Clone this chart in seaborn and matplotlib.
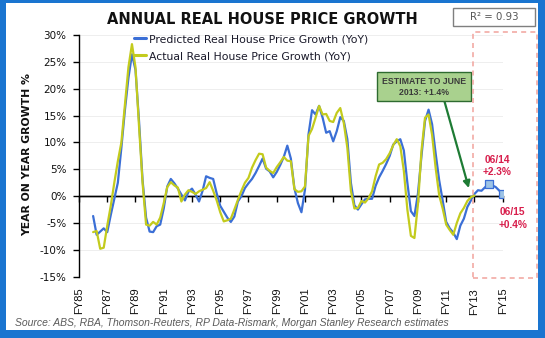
import matplotlib
matplotlib.use("Agg")
import matplotlib.pyplot as plt
import seaborn as sns
import pandas as pd
from matplotlib.patches import Rectangle
from matplotlib.lines import Line2D

# ---------------- data (quarterly, fiscal-year axis) ----------------
quarter_start = 1986.0
predicted = [
    -3.7, -7.2, -6.6, -6.0,   # 1986
    -6.7, -3.5, -0.5, 2.5,    # 1987
    9.0, 16.0, 22.0, 26.4,    # 1988
    23.5, 14.0, 3.0, -4.0,    # 1989
    -6.6, -6.7, -5.6, -5.3,   # 1990
    -2.3, 1.8, 3.2, 2.4,      # 1991
    1.4, 0.3, -0.8, 0.8,      # 1992
    1.4, 0.3, -1.0, 1.0,      # 1993
    3.7, 3.4, 3.2, 0.5,       # 1994
    -1.8, -2.9, -4.0, -4.8,   # 1995
    -3.8, -1.0, 0.0, 1.5,     # 1996
    2.4, 3.2, 4.3, 5.6,       # 1997
    7.0, 5.1, 4.6, 3.5,       # 1998
    4.5, 5.8, 7.3, 9.4,       # 1999
    7.0, 1.5, -1.3, -3.0,     # 2000
    1.2, 11.5, 16.0, 15.2,    # 2001
    16.8, 14.6, 11.8, 12.1,   # 2002
    10.2, 12.1, 14.7, 14.0,   # 2003
    10.6, 2.5, -1.7, -2.5,    # 2004
    -1.5, -0.6, -0.5, -0.5,   # 2005
    1.9, 3.5, 4.7, 6.0,       # 2006
    7.5, 9.6, 10.2, 10.6,     # 2007
    8.5, 2.5, -2.8, -3.7,     # 2008
    0.5, 7.5, 14.0, 16.1,     # 2009
    13.4, 8.0, 3.0, -0.8,     # 2010
    -4.8, -6.0, -6.8, -8.0,   # 2011
    -5.5, -4.2, -2.0, -0.8,   # 2012
    0.4,                      # 2013
]
actual = [
    -6.7, -6.5, -9.8, -9.6,   # 1986
    -5.5, -1.8, 2.5, 6.5,     # 1987
    10.0, 17.0, 24.0, 28.3,   # 1988
    24.0, 13.0, 2.5, -5.3,    # 1989
    -5.5, -4.8, -5.3, -4.0,   # 1990
    -1.3, 1.7, 2.6, 2.0,      # 1991
    1.6, -1.0, 0.3, 1.1,      # 1992
    0.8, 0.4, 0.9, 1.2,       # 1993
    1.5, 2.6, 1.0, -0.8,      # 1994
    -3.0, -4.7, -4.5, -4.2,   # 1995
    -2.5, -0.7, 1.0, 2.5,     # 1996
    3.4, 5.3, 6.7, 7.9,       # 1997
    7.8, 5.3, 4.7, 4.3,       # 1998
    5.4, 6.3, 7.3, 6.6,       # 1999
    6.5, 1.3, 0.8, 0.9,       # 2000
    1.8, 11.2, 12.5, 14.6,    # 2001
    16.8, 15.2, 15.3, 14.0,   # 2002
    13.8, 15.5, 16.4, 13.6,   # 2003
    9.0, 1.0, -2.3, -2.2,     # 2004
    -0.9, -1.2, -0.4, 0.9,    # 2005
    3.7, 5.9, 6.2, 6.9,       # 2006
    8.0, 9.5, 10.6, 9.3,      # 2007
    4.7, -2.5, -7.4, -7.8,    # 2008
    -1.5, 8.5, 14.6, 15.2,    # 2009
    11.4, 5.3, 0.2, -2.3,     # 2010
    -5.3, -6.3, -7.2, -5.0,   # 2011
    -3.2, -2.2, -0.9, -0.2,   # 2012
    0.1,                      # 2013
]
forecast_fy = [2013.25, 2013.5, 2014.0, 2014.5, 2015.0]
forecast_vals = [1.1, 1.0, 2.3, 1.7, 0.4]
marker_fy = [2014.0, 2015.0]
marker_vals = [2.3, 0.4]

pred_label = "Predicted Real House Price Growth (YoY)"
act_label = "Actual Real House Price Growth (YoY)"
tick_years = list(range(1985, 2016, 2))
tick_labels = ["FY%02d" % (y % 100) for y in tick_years]
y_ticks = list(range(-15, 31, 5))

hist_pred_fy = [quarter_start + 0.25 * i for i in range(len(predicted))]
hist_act_fy = [quarter_start + 0.25 * i for i in range(len(actual))]

df = pd.DataFrame({
    "fy": hist_pred_fy + forecast_fy + hist_act_fy,
    "val": predicted + forecast_vals + actual,
    "series": [pred_label] * (len(predicted) + len(forecast_vals)) + [act_label] * len(actual),
})

BLUE = "#3b6fd6"
YELLOW = "#c3cb1d"

# ---------------- figure ----------------
sns.set_style("white")
plt.rcParams["font.family"] = ["DejaVu Sans"]

W, H = 545, 338
fig = plt.figure(figsize=(W / 100, H / 100), dpi=100)
fig.patch.set_facecolor("white")

def fx(px):
    return px / W

def fy_(py):
    return 1 - py / H

ax = fig.add_axes([fx(79), fy_(276.7), fx(502.7) - fx(79), fy_(35) - fy_(276.7)])

ax.axhline(0, color="black", linewidth=1.0, zorder=1.5)
sns.lineplot(data=df, x="fy", y="val", hue="series", hue_order=[pred_label, act_label],
             palette=[BLUE, YELLOW], linewidth=1.6, ax=ax, legend=False,
             estimator=None, sort=True, zorder=2)
sns.scatterplot(x=marker_fy, y=marker_vals, marker="s", s=26, color="#9dc3e6",
                edgecolor=BLUE, linewidth=0.9, ax=ax, zorder=5, legend=False)

ax.set_xlim(1985, 2015)
ax.set_ylim(-15, 30)
ax.set_xlabel("")
ax.set_ylabel("")

ax.set_yticks(y_ticks)
ax.set_yticklabels(["%d%%" % v for v in y_ticks])
ax.yaxis.grid(True, color="#eeeeee", linewidth=0.7)
ax.xaxis.grid(False)
ax.set_axisbelow(True)
for s in ["top", "right", "bottom"]:
    ax.spines[s].set_visible(False)
ax.spines["left"].set_color("black")
ax.spines["left"].set_linewidth(1.0)
ax.tick_params(axis="y", direction="out", length=4, width=1.0, color="black",
               labelsize=7.5, pad=5, left=True, labelcolor="#111111")

ax.set_xticks(tick_years)
ax.set_xticklabels(tick_labels, rotation=90, fontfamily="Liberation Sans", fontsize=8)
ax.tick_params(axis="x", length=0, pad=8, labelcolor="#111111")

# tick marks on the zero line
sec = ax.secondary_xaxis(1 / 3)
sec.set_xticks(tick_years)
sec.set_xticklabels([""] * len(tick_years))
sec.tick_params(direction="out", length=4, width=1.0, color="black")
for s in sec.spines.values():
    s.set_color("black")
    s.set_linewidth(1.0)

# legend
handles = [Line2D([], [], color=BLUE, lw=2.2), Line2D([], [], color=YELLOW, lw=2.2)]
ax.legend(handles, [pred_label, act_label], loc="upper left",
          bbox_to_anchor=(fx(134), fy_(34)), bbox_transform=fig.transFigure,
          frameon=False, fontsize=7.8, handlelength=1.1, handletextpad=0.3,
          labelspacing=0.65, borderaxespad=0, borderpad=0, labelcolor="#1a1a2a")

# annotation box with arrow
ax.annotate("ESTIMATE TO JUNE\n2013: +1.4%", xy=(2012.6, 1.5), xytext=(2009.41, 20.35),
            textcoords="data", ha="center", va="center", fontsize=6.3,
            fontweight="bold", family="Liberation Sans", color="#3a3a3a",
            bbox=dict(boxstyle="square,pad=0.55", fc="#a9d18e", ec="#2e6b30", lw=1.0),
            arrowprops=dict(arrowstyle="-|>", color="#1e7b34", lw=1.6, mutation_scale=10,
                            relpos=(0.73, 0.0), shrinkA=0, shrinkB=0),
            annotation_clip=False, zorder=6)

RED = "#d81e4c"
ax.text(2014.62, 5.6, "06/14\n+2.3%", ha="center", va="center", color=RED,
        fontsize=7.3, fontweight="bold", family="Liberation Sans",
        linespacing=1.35, clip_on=False)
ax.text(2015.71, -4.1, "06/15\n+0.4%", ha="center", va="center", color=RED,
        fontsize=7.3, fontweight="bold", family="Liberation Sans",
        linespacing=1.35, clip_on=False)

# forecast dashed box
fig.add_artist(Rectangle((fx(472.7), fy_(278)), fx(537) - fx(472.7), fy_(31.7) - fy_(278),
                         transform=fig.transFigure, fill=False, ec="#f2aaa4",
                         lw=1.2, ls=(0, (3, 2.5))))

# title
fig.text(fx(262), fy_(19.2), "ANNUAL REAL HOUSE PRICE GROWTH", ha="center", va="center",
         fontsize=10.5, fontweight="bold", color="#111111")

# R^2 box
fig.add_artist(Rectangle((fx(453), fy_(26)), fx(535) - fx(453), fy_(8) - fy_(26),
                         transform=fig.transFigure, fill=True, fc="white", ec="#7f7f7f", lw=1.0))
fig.text(fx(494), fy_(17), "R² = 0.93", ha="center", va="center", fontsize=7.3,
         color="#555555")

# y label
fig.text(fx(27.5), fy_(155), "YEAR ON YEAR GROWTH %", rotation=90, ha="center", va="center",
         fontsize=7.8, fontweight="bold", color="#111111")

# source
fig.text(fx(15), fy_(322.5), "Source: ABS, RBA, Thomson-Reuters, RP Data-Rismark, Morgan Stanley Research estimates",
         ha="left", va="center", fontsize=7.5, style="italic", family="Liberation Sans",
         color="#5a5a5a")

# blue frame
FRAME = "#1a75d0"
for (x0, y0, x1, y1) in [(0, 0, 6, H), (538, 0, W, H), (0, 0, W, 3), (0, 330, W, H)]:
    fig.add_artist(Rectangle((fx(x0), fy_(y1)), fx(x1) - fx(x0), fy_(y0) - fy_(y1),
                             transform=fig.transFigure, fc=FRAME, ec="none"))

fig.savefig("out.png", dpi=100, facecolor="white")
